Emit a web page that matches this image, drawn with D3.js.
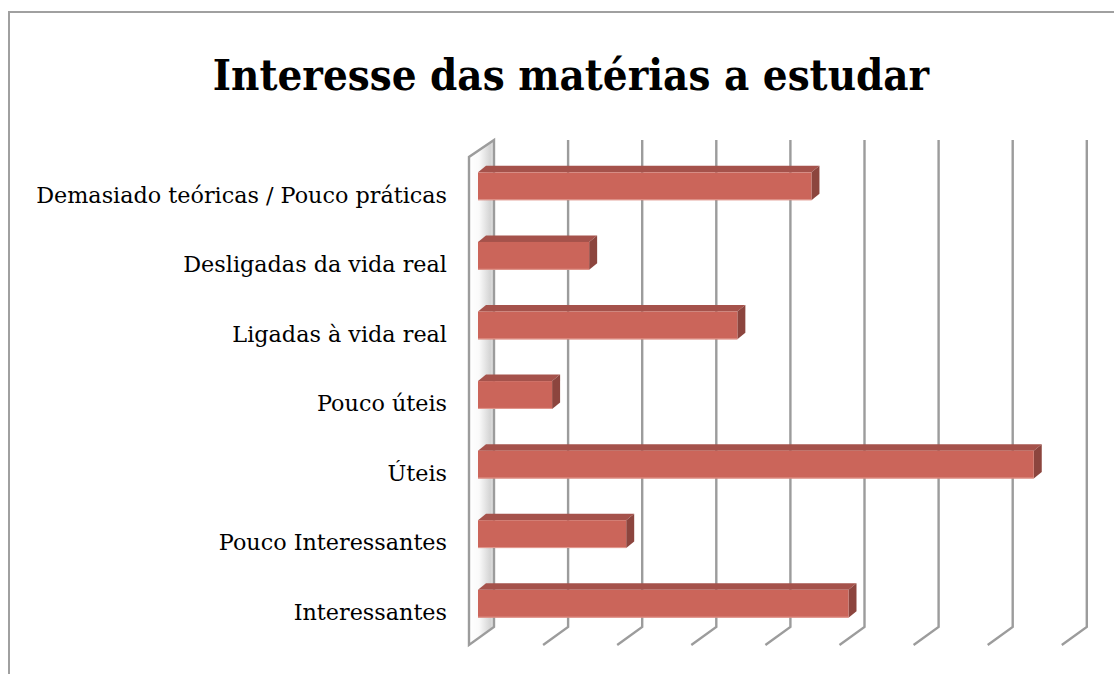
<!DOCTYPE html>
<html>
<head>
<meta charset="utf-8">
<script src="https://cdn.jsdelivr.net/npm/d3@7/dist/d3.min.js"></script>
<style>
  html, body { margin: 0; padding: 0; background: #fff; }
  svg { display: block; }
</style>
</head>
<body>
<svg id="chart" width="1114" height="674"></svg>
<script>
// Categories, top to bottom
const categories = [
  "Demasiado teóricas / Pouco práticas",
  "Desligadas da vida real",
  "Ligadas à vida real",
  "Pouco úteis",
  "Úteis",
  "Pouco Interessantes",
  "Interessantes"
];
// Number of answers per category
const values = [9, 3, 7, 2, 15, 4, 10];
// Value axis ticks (gridlines only, no labels shown)
const ticks = [0, 2, 4, 6, 8, 10, 12, 14, 16];
const title = "Interesse das matérias a estudar";

const svg = d3.select("#chart");

// Outer chart frame
svg.append("rect")
  .attr("x", 9).attr("y", 12)
  .attr("width", 1300).attr("height", 900)
  .attr("fill", "#fff")
  .attr("stroke", "#a0a0a0")
  .attr("stroke-width", 2);

// Title
svg.append("text")
  .attr("x", 571).attr("y", 90)
  .attr("text-anchor", "middle")
  .attr("font-family", "'DejaVu Serif Condensed', 'DejaVu Serif', serif")
  .attr("font-weight", "bold")
  .attr("font-size", 43.4)
  .attr("fill", "#000")
  .text(title);

// Back plane of the 3D plot
const back = { x: 494, top: 140, bottom: 627 };
const depth = { dx: -25, dy: 18 };        // floor depth (back -> front)
const barFront = { dx: -16, dy: 11.5 };   // bar front face offset from back plane
const barDepth = { dx: 8, dy: -6.5 };     // bar thickness (front -> back)

const x = d3.scaleLinear().domain([0, 16]).range([0, 8 * 74.1]);
const y = d3.scaleBand().domain(categories)
  .range([0, back.bottom - back.top])
  .paddingInner(0.6).paddingOuter(0.3);

// Shaded side wall
const defs = svg.append("defs");
const grad = defs.append("linearGradient").attr("id", "wallGrad")
  .attr("x1", "0").attr("x2", "1").attr("y1", "0").attr("y2", "0");
grad.append("stop").attr("offset", "0").attr("stop-color", "#ffffff");
grad.append("stop").attr("offset", "0.4").attr("stop-color", "#fafafa");
grad.append("stop").attr("offset", "0.85").attr("stop-color", "#d4d4d4");
grad.append("stop").attr("offset", "1").attr("stop-color", "#e6e6e6");

const wallPts = [
  [back.x, back.top],
  [back.x + depth.dx, back.top + 17],
  [back.x + depth.dx, back.bottom + depth.dy],
  [back.x, back.bottom]
];
svg.append("polygon")
  .attr("points", wallPts.map(p => p.join(",")).join(" "))
  .attr("fill", "url(#wallGrad)")
  .attr("stroke", "#9c9c9c")
  .attr("stroke-width", 2.4)
  .attr("stroke-linejoin", "miter");

// Gridlines: vertical on back wall, diagonal across floor
const grid = svg.append("g")
  .attr("fill", "none")
  .attr("stroke", "#9c9c9c")
  .attr("stroke-width", 2.4);
grid.selectAll("path").data(ticks.slice(1)).join("path")
  .attr("d", t => {
    const gx = back.x + x(t);
    return `M${gx},${back.top} L${gx},${back.bottom} L${gx + depth.dx},${back.bottom + depth.dy}`;
  });

// Bars
const bars = svg.append("g");
categories.forEach((c, i) => {
  const v = values[i];
  const x0 = back.x + barFront.dx + x(0);
  const x1 = back.x + barFront.dx + x(v);
  const y0 = back.top + barFront.dy + y(c);
  const h = y.bandwidth();
  const g = bars.append("g");
  // top face
  g.append("polygon")
    .attr("points", [
      [x0, y0], [x1, y0], [x1 + barDepth.dx, y0 + barDepth.dy], [x0 + barDepth.dx, y0 + barDepth.dy]
    ].map(p => p.join(",")).join(" "))
    .attr("fill", "#a5524b");
  // side face
  g.append("polygon")
    .attr("points", [
      [x1, y0], [x1 + barDepth.dx, y0 + barDepth.dy], [x1 + barDepth.dx, y0 + h + barDepth.dy], [x1, y0 + h]
    ].map(p => p.join(",")).join(" "))
    .attr("fill", "#8c453e");
  // front face
  g.append("rect")
    .attr("x", x0).attr("y", y0)
    .attr("width", x1 - x0).attr("height", h)
    .attr("fill", "#cb655a");
  g.append("line")
    .attr("x1", x0).attr("x2", x1)
    .attr("y1", y0 + h - 0.5).attr("y2", y0 + h - 0.5)
    .attr("stroke", "#e29a90").attr("stroke-width", 1);
});

// Category labels, aligned with the front edge of the plot
const frontTop = back.top + 20;
svg.append("g").selectAll("text").data(categories).join("text")
  .attr("x", 447)
  .attr("y", c => frontTop + y(c) + y.bandwidth() / 2)
  .attr("dy", "0.35em")
  .attr("text-anchor", "end")
  .attr("font-family", "'DejaVu Serif', serif")
  .attr("font-size", 22.3)
  .attr("fill", "#000")
  .text(c => c);
</script>
</body>
</html>
